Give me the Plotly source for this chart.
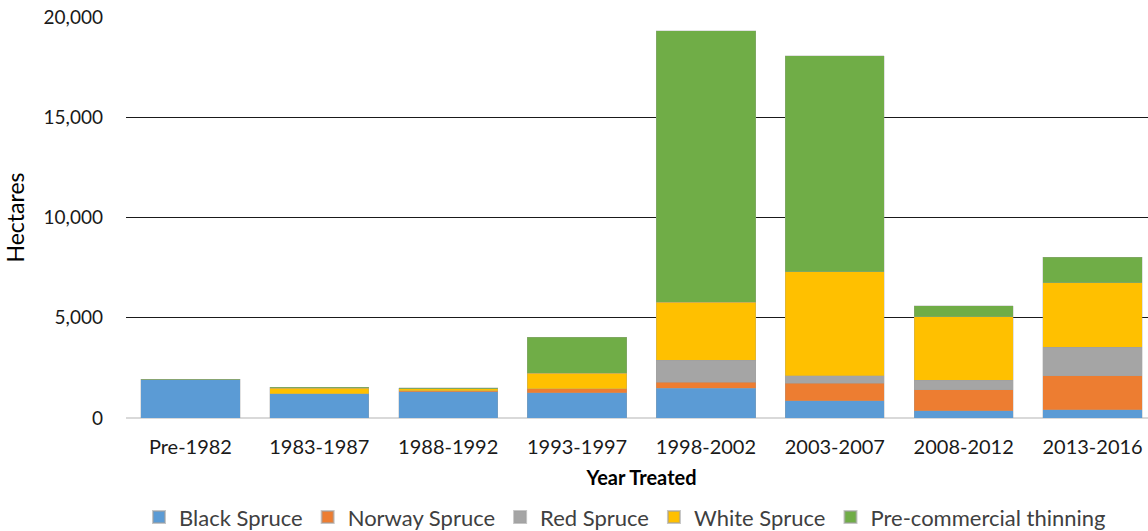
import plotly.graph_objects as go

categories = ["Pre-1982", "1983-1987", "1988-1992", "1993-1997", "1998-2002", "2003-2007", "2008-2012", "2013-2016"]
black_spruce = [1900, 1200, 1310, 1250, 1475, 865, 365, 415]
norway_spruce = [0, 0, 50, 215, 315, 865, 1050, 1695]
red_spruce = [0, 0, 0, 0, 1100, 385, 480, 1430]
white_spruce = [0, 280, 100, 760, 2875, 5190, 3160, 3210]
pre_commercial = [40, 50, 50, 1810, 13550, 10775, 550, 1260]

series = [
    ("Black Spruce", black_spruce, "#5B9BD5"),
    ("Norway Spruce", norway_spruce, "#ED7D31"),
    ("Red Spruce", red_spruce, "#A5A5A5"),
    ("White Spruce", white_spruce, "#FFC000"),
    ("Pre-commercial thinning", pre_commercial, "#70AD47"),
]

fig = go.Figure()
for name, vals, color in series:
    fig.add_trace(go.Bar(
        x=categories, y=vals, name=name,
        marker=dict(color=color, line=dict(color="rgba(160,160,160,0.6)", width=0.5)),
    ))

fig.update_layout(
    barmode="stack",
    bargap=0.23,
    width=1157, height=531,
    margin=dict(l=126, r=0, t=17, b=113),
    plot_bgcolor="white", paper_bgcolor="white",
    font=dict(family="Lato, Liberation Sans, sans-serif", size=18, color="#000000"),
    legend=dict(orientation="h", x=0.484, xanchor="center",
                yref="container", y=0.026, yanchor="middle",
                font=dict(size=22, color="#404040"), traceorder="normal",
                itemwidth=30, itemsizing="constant"),
    showlegend=True,
)
fig.update_xaxes(
    automargin=False,
    showgrid=False, showline=False, ticks="",
    ticklabelstandoff=15,
    tickfont=dict(size=20, color="#1a1a1a"),
    title=dict(text="<b>Year Treated</b>", font=dict(size=20), standoff=13),
)
fig.update_yaxes(
    automargin=False,
    range=[0, 20000], dtick=5000, tickformat=",",
    showgrid=True, gridcolor="#1a1a1a", gridwidth=1,
    zeroline=True, zerolinecolor="#D9D9D9", zerolinewidth=2,
    ticklabelstandoff=22,
    tickfont=dict(size=19, color="#1a1a1a"),
    title=dict(text="Hectares", font=dict(size=23), standoff=12),
)

fig.write_html("out.html", config={"displayModeBar": False},
               post_script="document.body.style.margin='0';document.body.style.overflow='hidden';")
